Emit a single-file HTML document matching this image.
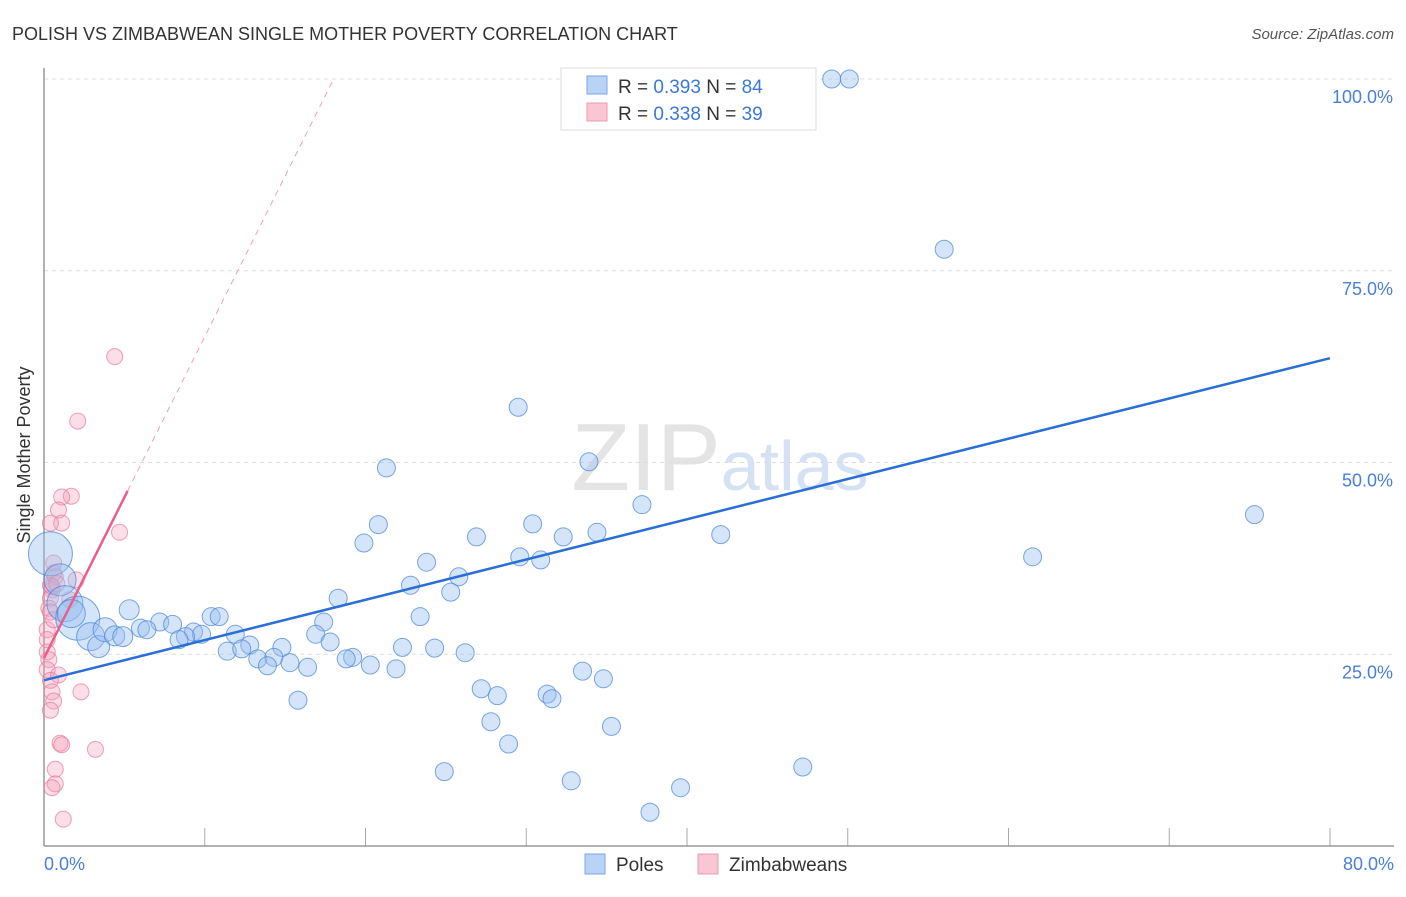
<!DOCTYPE html>
<html><head><meta charset="utf-8"><style>
body{margin:0;background:#fff;font-family:"Liberation Sans",sans-serif}
svg text{font-family:"Liberation Sans",sans-serif}
</style></head><body>
<svg width="1406" height="892" viewBox="0 0 1406 892" xmlns="http://www.w3.org/2000/svg">
<text x="12" y="40" font-size="18" fill="#333">POLISH VS ZIMBABWEAN SINGLE MOTHER POVERTY CORRELATION CHART</text>
<text x="1394" y="39" font-size="15" fill="#555" font-style="italic" text-anchor="end">Source: ZipAtlas.com</text>
<text x="720" y="490" font-size="96" fill="#e4e4e4" text-anchor="middle" font-family="Liberation Serif">ZIP<tspan fill="#d4e2f3" font-family="Liberation Sans" font-size="70">atlas</tspan></text>
<g id="grid"></g>
<line x1="44" y1="68" x2="44" y2="846" stroke="#999" stroke-width="1.5"/>
<line x1="44" y1="846" x2="1394" y2="846" stroke="#999" stroke-width="1.5"/>
<text x="30" y="455" font-size="18" fill="#333" text-anchor="middle" transform="rotate(-90 30 455)">Single Mother Poverty</text>
<text x="44" y="870" font-size="18" fill="#4a7fd8">0.0%</text>
<text x="1394" y="870" font-size="18" fill="#4a7fd8" text-anchor="end">80.0%</text>
<g id="pts"></g>
<g id="lines"></g>
<g>
<rect x="561" y="68" width="255" height="62" fill="#fff" stroke="#ddd"/>
<rect x="587" y="76" width="20" height="18" fill="#b9d3f5" stroke="#7aa6e6"/>
<rect x="587" y="103" width="20" height="18" fill="#f9c6d4" stroke="#ee9ab2"/>
<text x="618" y="93" font-size="19" fill="#333">R = <tspan fill="#3b78d8">0.393</tspan>   N = <tspan fill="#3b78d8">84</tspan></text>
<text x="618" y="120" font-size="19" fill="#333">R = <tspan fill="#3b78d8">0.338</tspan>   N = <tspan fill="#3b78d8">39</tspan></text>
</g>
<g>
<rect x="585" y="854" width="20" height="20" fill="#b9d3f5" stroke="#7aa6e6"/>
<text x="616" y="871" font-size="19" fill="#333">Poles</text>
<rect x="698" y="854" width="20" height="20" fill="#f9c6d4" stroke="#ee9ab2"/>
<text x="729" y="871" font-size="19" fill="#333">Zimbabweans</text>
</g>
</svg>
<script>
const yTicks=[25,50,75,100];
const yTickLabels=["25.0%","50.0%","75.0%","100.0%"];
const xTicks=[10,20,30,40,50,60,70,80];
const polesX=[36.1,43.2,49.0,50.1,56.0,29.5,21.3,33.9,37.2,75.3,30.4,20.8,26.9,32.3,34.4,42.1,19.9,61.5,29.6,30.9,23.8,25.8,22.8,25.3,18.3,5.3,23.4,17.4,10.4,10.9,7.2,8.0,6.0,6.4,16.9,11.9,9.3,9.8,8.8,8.4,12.8,17.8,14.8,22.3,24.3,11.4,12.3,26.2,13.3,14.3,15.3,16.4,13.9,19.2,18.8,20.3,21.9,33.5,34.8,27.2,28.2,31.3,31.6,15.8,27.8,35.3,28.9,24.9,47.2,32.8,39.6,37.7,0.4,1.0,1.3,2.1,2.9,3.4,3.8,4.4,4.9,1.7];
const polesY=[100,100,100,100,77.8,57.2,49.3,50.1,44.5,43.2,42.0,41.9,40.3,40.3,40.9,40.6,39.5,37.7,37.7,37.3,37.0,35.1,34.0,33.1,32.3,30.8,29.9,29.2,29.9,29.9,29.2,28.9,28.4,28.2,27.6,27.6,27.9,27.6,27.3,26.9,26.2,26.6,25.9,25.9,25.8,25.4,25.7,25.2,24.4,24.6,23.9,23.3,23.5,24.6,24.4,23.6,23.1,22.8,21.8,20.5,19.6,19.8,19.2,19.0,16.2,15.6,13.3,9.7,10.3,8.5,7.6,4.4,38.1,34.7,31.6,29.7,27.3,26.0,28.2,27.4,27.3,30.3];
const polesR=[9,9,9,9,9,9,9,9,9,9,9,9,9,9,9,9,9,9,9,9,9,9,9,9,9,10,9,9,9,9,9,9,9,9,9,9,9,9,9,9,9,9,9,9,9,9,9,9,9,9,9,9,9,9,9,9,9,9,9,9,9,9,9,9,9,9,9,9,9,9,9,9,22,16,18,22,14,11,12,10,10,14];
const zimX=[4.4,2.1,1.7,1.1,0.9,1.1,0.4,4.7,0.6,0.6,0.7,2.0,0.4,0.5,0.4,1.6,0.2,0.2,0.2,0.3,0.2,0.9,0.4,2.3,0.5,0.6,0.4,1.0,1.1,3.2,0.7,0.7,0.5,1.2,0.3,0.5,0.8,0.4,0.6];
const zimY=[63.8,55.4,45.6,45.5,43.8,42.1,42.1,40.9,36.9,35.6,35.1,34.7,34.0,33.4,32.3,32.1,28.2,26.9,25.3,24.3,23.0,22.3,21.6,20.1,20.1,18.9,17.7,13.4,13.2,12.6,10.0,8.1,7.6,3.5,31.0,33.8,34.2,30.5,29.5];
const polesLine=[21.6,63.6];
const zimLine=[24.5,4.19];
const X=v=>44+v/80*1286, Y=v=>846-v/100*767;
const NS="http://www.w3.org/2000/svg";
function mk(t,a,p){const e=document.createElementNS(NS,t);for(const k in a)e.setAttribute(k,a[k]);p.appendChild(e);return e;}
const grid=document.getElementById('grid');
yTicks.forEach((t,i)=>{
 const l=mk('line',{x1:44,x2:1394,y1:Y(t),y2:Y(t),stroke:'#ddd','stroke-dasharray':'4,4'},grid);
 
 
 const tx=mk('text',{x:1393,y:Y(t)+24,'font-size':18,fill:'#4a7fd8','text-anchor':'end'},grid);
 tx.textContent=yTickLabels[i];
 
 
});
xTicks.forEach(t=>{
 const l=mk('line',{x1:X(t),x2:X(t),y1:828,y2:846,stroke:'#aaa'},grid);
 
 
});
const pts=document.getElementById('pts');
zimX.forEach((x,i)=>{
 const c=mk('circle',{cx:X(x),cy:Y(zimY[i]),r:8,fill:'rgba(244,160,185,0.35)',stroke:'rgba(232,120,155,0.7)'},pts);
 
 
});
polesX.forEach((x,i)=>{
 const c=mk('circle',{cx:X(x),cy:Y(polesY[i]),r:polesR[i],fill:'rgba(150,190,240,0.4)',stroke:'rgba(70,130,215,0.7)'},pts);
 
 
});
const ln=document.getElementById('lines');
const bl=mk('line',{x1:X(0),y1:Y(polesLine[0]),x2:X(80),y2:Y(polesLine[1]),stroke:'#2a6fd6','stroke-width':2.5},ln);


const xEnd=(100-zimLine[0])/zimLine[1];
const pd=mk('line',{x1:X(0),y1:Y(zimLine[0]),x2:X(xEnd),y2:Y(100),stroke:'#f0a0b8','stroke-width':1,'stroke-dasharray':'6,5'},ln);


const ps=mk('line',{x1:X(0),y1:Y(zimLine[0]),x2:X(5.2),y2:Y(zimLine[0]+zimLine[1]*5.2),stroke:'#e8608a','stroke-width':2.5},ln);


</script>
</body></html>
